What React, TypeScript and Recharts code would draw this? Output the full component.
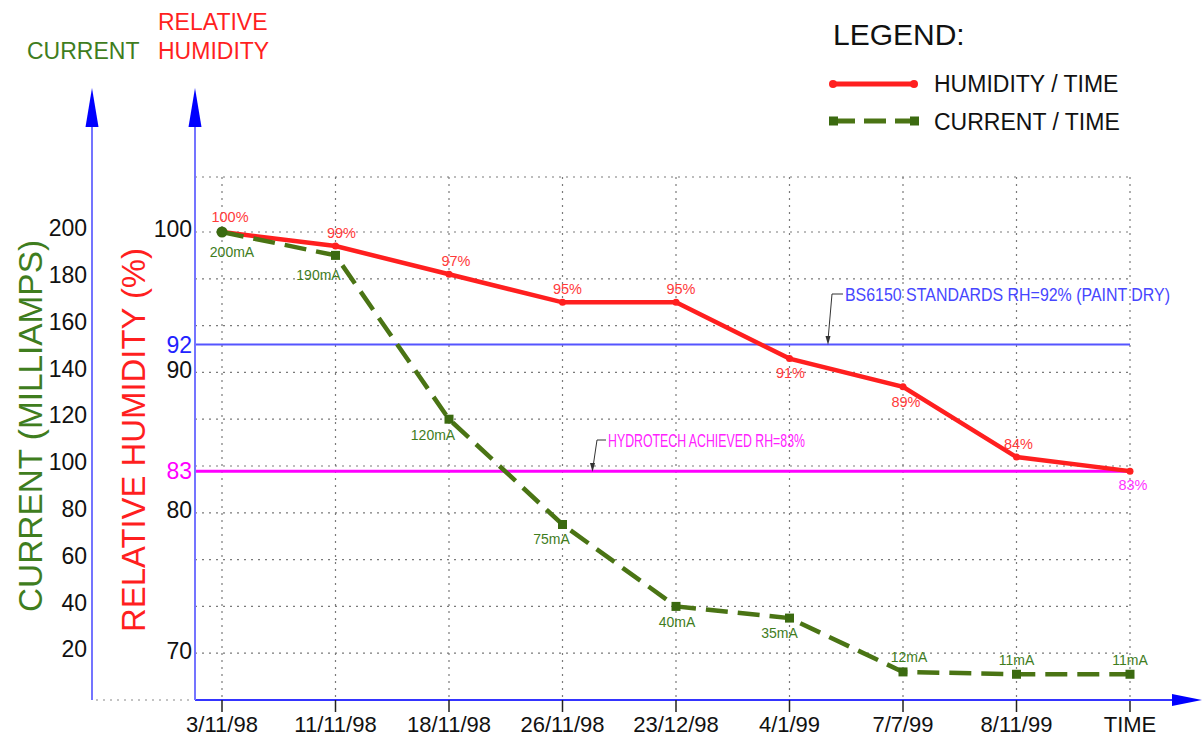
import { LineChart, Line, XAxis, YAxis, CartesianGrid, ReferenceLine } from "recharts";

const dates = ["3/11/98", "11/11/98", "18/11/98", "26/11/98", "23/12/98", "4/1/99", "7/7/99", "8/11/99", "TIME"];
const humidity = [100, 99, 97, 95, 95, 91, 89, 84, 83];
const current = [200, 190, 120, 75, 40, 35, 12, 11, 11];
const currentTicks = [20, 40, 60, 80, 100, 120, 140, 160, 180, 200];
const humidityTicks = [70, 80, 90, 100];
const standardRH = 92;
const achievedRH = 83;

// where each point label sits relative to its marker (dx, dy of baseline)
const rhLabelOffset = [[8, -10], [6, -8], [7, -8], [5, -8], [5, -8], [1, 19], [3, 20], [2, -8], [3, 19]];
const maLabelOffset = [[10, 25], [-17, 25], [-16, 21], [-11, 20], [1, 21], [-10, 20], [6, -10], [0, -9], [0, -9]];

const data = dates.map((d, i) => ({ date: d, rh: humidity[i], ma: current[i] }));

// axis ids: the humidity axis sits next to the plot, the current axis outside it
const RH_AXIS = "a";
const MA_AXIS = "b";

const RED = "#ff1f1f";
const GREEN = "#4a7414";
const GREEN_TXT = "#3f7d1e";
const FONT = "'Liberation Sans', Arial, sans-serif";

function HumDot(p: any) {
  const { cx, cy, index, value } = p;
  const [dx, dy] = rhLabelOffset[index];
  const last = index === humidity.length - 1;
  return (
    <g>
      <circle cx={cx} cy={cy} r={3.5} fill={RED} />
      <text x={cx + dx} y={cy + dy} textAnchor="middle" fontSize={14.5} fill={last ? "#ff33ff" : "#ff3a3a"}>
        {value}%
      </text>
    </g>
  );
}

function CurDot(p: any) {
  const { cx, cy, index, value } = p;
  const [dx, dy] = maLabelOffset[index];
  return (
    <g>
      {index === 0 ? (
        <circle cx={cx} cy={cy} r={5.5} fill="#3b6a10" />
      ) : (
        <rect x={cx - 4.5} y={cy - 4.5} width={9} height={9} fill="#3b6a10" />
      )}
      <text x={cx + dx} y={cy + dy} textAnchor="middle" fontSize={14} fill={GREEN_TXT}>
        {value}mA
      </text>
    </g>
  );
}

function Overlay() {
  const axisBlue = "#7474ff";
  return (
    <svg
      width={1203}
      height={747}
      style={{ position: "absolute", left: 0, top: 0, pointerEvents: "none", fontFamily: FONT }}
    >
      {/* axis extensions and arrowheads */}
      <line x1={92} y1={125} x2={92} y2={178} stroke={axisBlue} strokeWidth={2} />
      <line x1={195} y1={125} x2={195} y2={178} stroke={axisBlue} strokeWidth={2} />
      <polygon points="92,88 85.5,127 98.5,127" fill="#0000ff" />
      <polygon points="195,88 188.5,127 201.5,127" fill="#0000ff" />
      <line x1={1129} y1={700} x2={1175} y2={700} stroke="#3434ff" strokeWidth={2} />
      <polygon points="1202,700 1172,694 1172,706" fill="#0000ff" />
      <line x1={96} y1={700} x2={192} y2={700} stroke="#888" strokeWidth={1.2} strokeDasharray="2 5" />

      {/* axis titles */}
      <text x={27} y={59} fontSize={23} fill={GREEN_TXT}>CURRENT</text>
      <text x={158} y={30} fontSize={23} fill={RED}>RELATIVE</text>
      <text x={158} y={59} fontSize={23} fill={RED}>HUMIDITY</text>
      <text transform="translate(42,426) rotate(-90)" textAnchor="middle" fontSize={33} fill={GREEN_TXT}
        textLength={372} lengthAdjust="spacingAndGlyphs">
        CURRENT (MILLIAMPS)
      </text>
      <text transform="translate(145,440) rotate(-90)" textAnchor="middle" fontSize={33} fill={RED}
        textLength={384} lengthAdjust="spacingAndGlyphs">
        RELATIVE HUMIDITY (%)
      </text>

      {/* legend */}
      <text x={833} y={45} fontSize={30} fill="#111">LEGEND:</text>
      <line x1={833} y1={84} x2={914} y2={84} stroke={RED} strokeWidth={5} />
      <circle cx={833} cy={84} r={4} fill={RED} />
      <circle cx={914} cy={84} r={4} fill={RED} />
      <text x={934} y={92} fontSize={23} fill="#111">HUMIDITY / TIME</text>
      <line x1={833} y1={121} x2={914} y2={121} stroke={GREEN} strokeWidth={5} strokeDasharray="22 9" />
      <rect x={829} y={116.5} width={9} height={9} fill="#3b6a10" />
      <rect x={910} y={116.5} width={9} height={9} fill="#3b6a10" />
      <text x={934} y={130} fontSize={23} fill="#111">CURRENT / TIME</text>

      {/* reference line annotations */}
      <polyline points="843,294 832,294 828,340" fill="none" stroke="#333" strokeWidth={1} />
      <polygon points="828,345 825.5,336 830.5,336" fill="#333" />
      <text x={845} y={301} fontSize={17.5} fill="#4646ff" textLength={325} lengthAdjust="spacingAndGlyphs">
        BS6150 STANDARDS RH=92% (PAINT DRY)
      </text>
      <polyline points="606,440 597,440 593,467" fill="none" stroke="#333" strokeWidth={1} />
      <polygon points="592.5,472 590,463 595,463" fill="#333" />
      <text x={608} y={447} fontSize={18} fill="#ff22ff" textLength={197} lengthAdjust="spacingAndGlyphs">
        HYDROTECH ACHIEVED RH=83%
      </text>
    </svg>
  );
}

export default function App() {
  return (
    <div style={{ position: "absolute", left: 0, top: 0, width: 1203, height: 747, background: "#fff", fontFamily: FONT }}>
      <LineChart
        width={1203}
        height={747}
        data={data}
        margin={{ top: 177, right: 73, bottom: 0, left: 0 }}
        style={{ fontFamily: FONT }}
      >
        <CartesianGrid yAxisId={MA_AXIS} stroke="#7a7a7a" strokeWidth={1.2} strokeDasharray="2 5" />
        <XAxis
          dataKey="date"
          interval={0}
          height={47}
          padding={{ left: 27, right: 0 }}
          axisLine={{ stroke: "#3434ff", strokeWidth: 2 }}
          tickLine={{ stroke: "#222", strokeWidth: 1.5 }}
          tickSize={12}
          tickMargin={4}
          tick={{ fill: "#111", fontSize: 22 }}
        />
        <YAxis
          yAxisId={RH_AXIS}
          orientation="left"
          width={103}
          type="number"
          domain={[66.73, 103.91]}
          allowDataOverflow
          ticks={humidityTicks}
          tickSize={0}
          tickMargin={3}
          tickLine={false}
          axisLine={{ stroke: "#7474ff", strokeWidth: 2 }}
          tick={{ fill: "#111", fontSize: 23, dy: -3 }}
        />
        <YAxis
          yAxisId={MA_AXIS}
          orientation="left"
          width={92}
          type="number"
          domain={[0, 223.5]}
          allowDataOverflow
          ticks={currentTicks}
          tickSize={0}
          tickMargin={5}
          tickLine={false}
          axisLine={{ stroke: "#7474ff", strokeWidth: 2 }}
          tick={{ fill: "#111", fontSize: 23, dy: -4 }}
        />
        <ReferenceLine
          yAxisId={RH_AXIS}
          y={standardRH}
          stroke="#5555ff"
          strokeWidth={2}
          label={{ value: String(standardRH), position: "left", fill: "#2222ff", fontSize: 23, offset: 3 }}
        />
        <ReferenceLine
          yAxisId={RH_AXIS}
          y={achievedRH}
          stroke="#ff00ff"
          strokeWidth={3}
          label={{ value: String(achievedRH), position: "left", fill: "#ff00ff", fontSize: 23, offset: 3 }}
        />
        <Line
          yAxisId={RH_AXIS}
          dataKey="rh"
          type="linear"
          stroke={RED}
          strokeWidth={4.5}
          dot={(p: any) => <HumDot key={`h${p.index}`} {...p} />}
          activeDot={false}
          isAnimationActive={false}
        />
        <Line
          yAxisId={MA_AXIS}
          dataKey="ma"
          type="linear"
          stroke={GREEN}
          strokeWidth={4.5}
          strokeDasharray="22 10"
          dot={(p: any) => <CurDot key={`c${p.index}`} {...p} />}
          activeDot={false}
          isAnimationActive={false}
        />
      </LineChart>
      <Overlay />
    </div>
  );
}
